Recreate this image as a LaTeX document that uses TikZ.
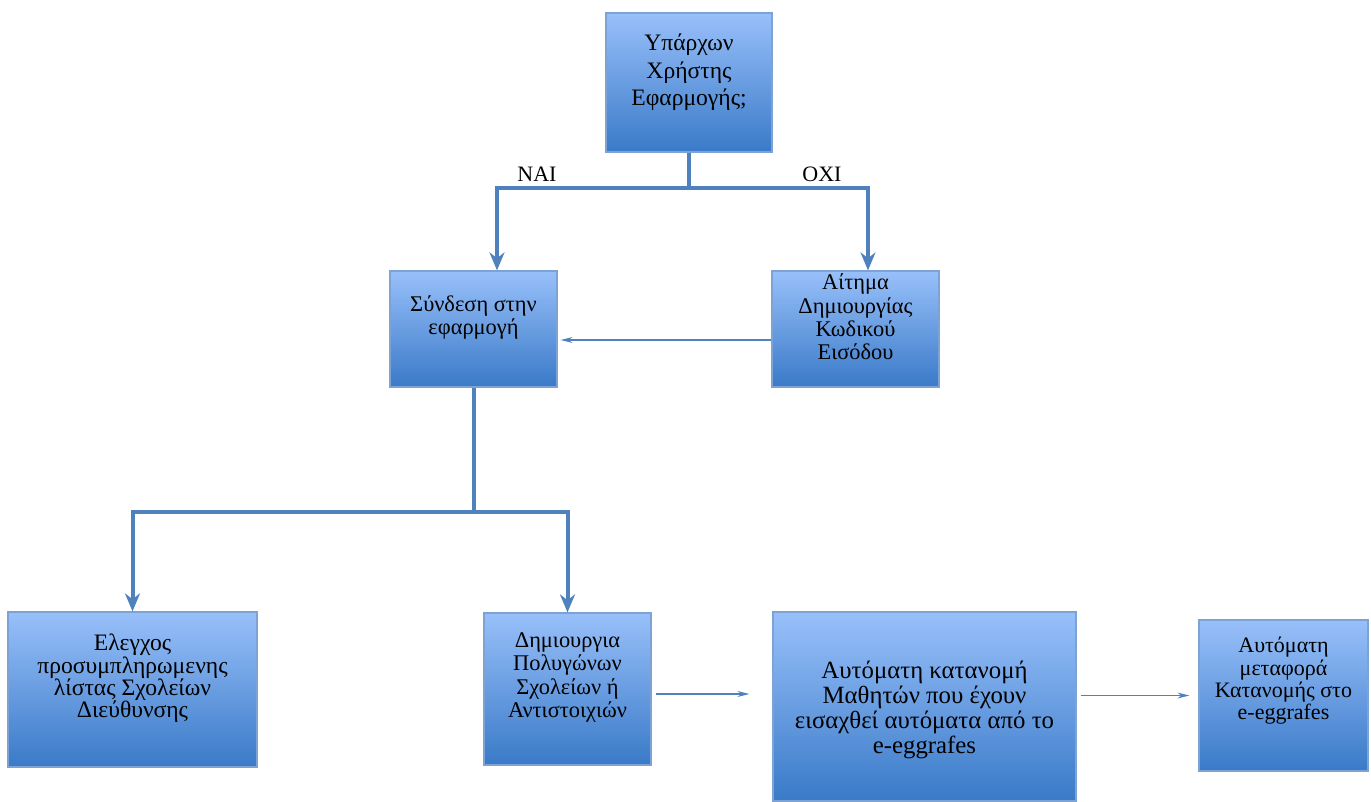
\documentclass[tikz,border=0pt]{standalone}
\usepackage{fontspec}
\setmainfont{Liberation Serif}
\usetikzlibrary{arrows.meta,positioning}
\definecolor{boxtop}{RGB}{152,192,250}
\definecolor{boxbot}{RGB}{58,122,200}
\definecolor{boxline}{RGB}{125,162,212}
\definecolor{flow}{RGB}{79,129,189}
\tikzset{stepbox/.style={draw=boxline, line width=0.6pt, top color=boxtop, bottom color=boxbot, inner sep=0pt}}
\tikzset{boxtext/.style={align=center, inner sep=0pt, font=\fontsize{11.2}{11.6}\selectfont}}
\tikzset{flowline/.style={draw=flow, line width=2pt, -{Stealth[length=9pt,width=7.5pt]}}}
\tikzset{thinline/.style={draw=flow, line width=0.6pt, -{Stealth[length=6pt,width=3pt]}}}

\begin{document}
\begin{tikzpicture}[x=0.5pt,y=-0.5pt]
\useasboundingbox (0,0) rectangle (1371,802);

% boxes
\node[stepbox, minimum width=83pt, minimum height=69.5pt] (ask) at (689,82.5) {};
\node[stepbox, minimum width=83.5pt, minimum height=58pt] (login) at (473.5,329) {};
\node[stepbox, minimum width=83.5pt, minimum height=58pt] (req) at (855.5,329) {};
\node[stepbox, minimum width=124.5pt, minimum height=77.5pt] (check) at (132.5,689.5) {};
\node[stepbox, minimum width=83.5pt, minimum height=76pt] (make) at (567.5,689) {};
\node[stepbox, minimum width=151.5pt, minimum height=94.5pt] (assign) at (924.5,706.5) {};
\node[stepbox, minimum width=84.5pt, minimum height=75.5pt] (move) at (1283.5,695.5) {};

% texts
\node[boxtext, font=\fontsize{11.8}{13.8}\selectfont] (askt) at ([yshift=5pt]ask.center) {Υπάρχων\\Χρήστης\\Εφαρμογής;};
\node[boxtext] (logint) at ([yshift=5.75pt]login.center) {Σύνδεση στην\\εφαρμογή};
\node[boxtext] (reqt) at ([yshift=6pt]req.center) {Αίτημα\\Δημιουργίας\\Κωδικού\\Εισόδου};
\node[boxtext, font=\fontsize{11.8}{11.2}\selectfont] (checkt) at ([yshift=5.5pt]check.center) {Ελεγχος\\προσυμπληρωμενης\\λίστας Σχολείων\\Διεύθυνσης};
\node[boxtext] (maket) at ([yshift=5.75pt]make.center) {Δημιουργια\\Πολυγώνων\\Σχολείων ή\\Αντιστοιχιών};
\node[boxtext, font=\fontsize{12.4}{12.5}\selectfont] (assignt) at ([yshift=-1.5pt]assign.center) {Αυτόματη κατανομή\\Μαθητών που έχουν\\εισαχθεί αυτόματα από το\\e-eggrafes};
\node[boxtext, font=\fontsize{11}{11.2}\selectfont] (movet) at ([yshift=7.25pt]move.center) {Αυτόματη\\μεταφορά\\Κατανομής στο\\e-eggrafes};

% labels
\node[font=\fontsize{11}{12}\selectfont] (yes) at (537,174) {ΝΑΙ};
\node[font=\fontsize{11}{12}\selectfont] (no) at (822,174) {ΟΧΙ};

% thick arrows
\draw[flowline] (ask.south) -- ++(0,35) -| ([xshift=11.75pt]login.north);
\draw[flowline] (ask.south) -- ++(0,35) -| ([xshift=6.25pt]req.north);
\draw[flowline] (login.south) -- ++(0,124) -| (check.north);
\draw[flowline] (login.south) -- ++(0,124) -| (make.north);

% thin arrows
\draw[thinline, shorten >=1.5pt] ([yshift=-5.5pt]req.west) -- ([yshift=-5.5pt]login.east);
\draw[thinline, shorten <=2pt, shorten >=11.5pt] ([yshift=-2.5pt]make.east) -- ([yshift=-2.5pt]make.east -| assign.west);
\draw[thinline, shorten <=2pt, shorten >=4.5pt] (assign.east |- move.west) -- (move.west);
\end{tikzpicture}
\end{document}
